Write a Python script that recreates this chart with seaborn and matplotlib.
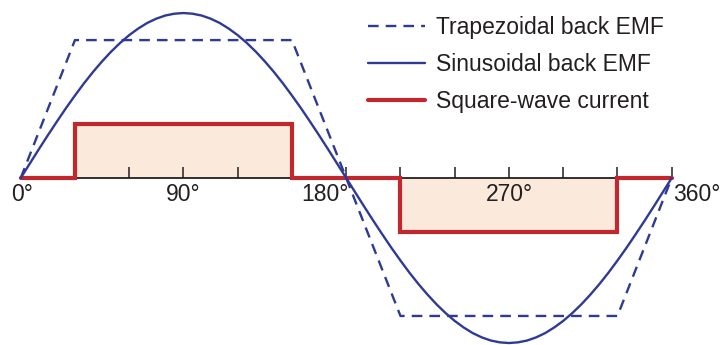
import matplotlib.pyplot as plt
import numpy as np
import pandas as pd
import seaborn as sns

# electrical angle in degrees, values normalised to the sine peak
sine_deg = list(range(0, 361, 5))
sine_val = [0.0, 0.087, 0.174, 0.259, 0.342, 0.423, 0.5, 0.574, 0.643, 0.707,
            0.766, 0.819, 0.866, 0.906, 0.940, 0.966, 0.985, 0.996, 1.0,
            0.996, 0.985, 0.966, 0.940, 0.906, 0.866, 0.819, 0.766, 0.707,
            0.643, 0.574, 0.5, 0.423, 0.342, 0.259, 0.174, 0.087, 0.0,
            -0.087, -0.174, -0.259, -0.342, -0.423, -0.5, -0.574, -0.643, -0.707,
            -0.766, -0.819, -0.866, -0.906, -0.940, -0.966, -0.985, -0.996, -1.0,
            -0.996, -0.985, -0.966, -0.940, -0.906, -0.866, -0.819, -0.766, -0.707,
            -0.643, -0.574, -0.5, -0.423, -0.342, -0.259, -0.174, -0.087, 0.0]

trap_deg = [0, 30, 150, 210, 330, 360]
trap_val = [0.0, 0.836, 0.836, -0.836, -0.836, 0.0]

curr_deg = [0, 30, 30, 150, 150, 210, 210, 330, 330, 360]
curr_val = [0.0, 0.0, 0.33, 0.33, 0.0, 0.0, -0.33, -0.33, 0.0, 0.0]

tick_deg = [30, 60, 90, 120, 150, 180, 210, 240, 270, 300, 330, 360]

series_names = ["Trapezoidal back EMF", "Sinusoidal back EMF", "Square-wave current"]

BLUE = "#2f3a95"
RED = "#c1272d"
FILL = "#fbeadc"
INK = "#231f20"

sns.set_style("white")
plt.rcParams['font.family'] = ['Liberation Sans', 'DejaVu Sans']

fig = plt.figure(figsize=(7.21, 3.45), dpi=100)
ax = fig.add_axes([20.7 / 721, 0, 651 / 721, 1])
ax.set_xlim(0, 360)
ax.set_ylim(-1.012, 1.079)

# axis through zero with inward ticks every 30 degrees
for side in ["top", "right", "left"]:
    ax.spines[side].set_visible(False)
ax.spines["bottom"].set_position(("data", 0))
ax.spines["bottom"].set_color(INK)
ax.spines["bottom"].set_linewidth(1.3)
ax.spines["bottom"].set_zorder(2)
ax.set_xticks(tick_deg)
ax.set_xticklabels([])
ax.set_yticks([])
ax.tick_params(axis="x", bottom=True, direction="in", length=8, width=1.1,
               color=INK)
ax.xaxis.set_zorder(2)

# shaded current blocks
ax.fill_between(curr_deg, curr_val, 0, color=FILL, lw=0, zorder=1)

curr_df = pd.DataFrame({"deg": curr_deg, "val": curr_val})
trap_df = pd.DataFrame({"deg": trap_deg, "val": trap_val})
sine_df = pd.DataFrame({"deg": sine_deg, "val": sine_val})

sns.lineplot(data=curr_df, x="deg", y="val", ax=ax, color=RED, lw=3.0,
             sort=False, estimator=None, label=series_names[2], zorder=3,
             solid_joinstyle="miter", clip_on=False)
sns.lineplot(data=trap_df, x="deg", y="val", ax=ax, color=BLUE, lw=1.7,
             sort=False, estimator=None, label=series_names[0], zorder=4,
             linestyle=(0, (4.5, 3)), clip_on=False)
sns.lineplot(data=sine_df, x="deg", y="val", ax=ax, color=BLUE, lw=1.7,
             sort=False, estimator=None, label=series_names[1], zorder=4,
             clip_on=False)
ax.set_xlabel("")
ax.set_ylabel("")

# angle labels
fs = 16.5
ty = -0.10
ax.text(1, ty, "0°", ha="center", va="center", fontsize=fs, color=INK)
ax.text(90, ty, "90°", ha="center", va="center", fontsize=fs, color=INK)
ax.text(181.6, ty, "180°", ha="right", va="center", fontsize=fs, color=INK)
ax.text(270, ty, "270°", ha="center", va="center", fontsize=fs, color=INK)
ax.text(360.7, ty, "360°", ha="left", va="center", fontsize=fs, color=INK)

handles, labels = ax.get_legend_handles_labels()
order = [labels.index(n) for n in series_names]
ax.legend([handles[i] for i in order], [labels[i] for i in order],
          loc="upper left", bbox_to_anchor=(368 / 721, 1 - 16 / 345),
          bbox_transform=fig.transFigure, frameon=False, fontsize=fs,
          handlelength=2.5, handletextpad=0.45, labelspacing=0.62,
          borderpad=0, borderaxespad=0, labelcolor=INK)

fig.savefig("out.png", dpi=100)
